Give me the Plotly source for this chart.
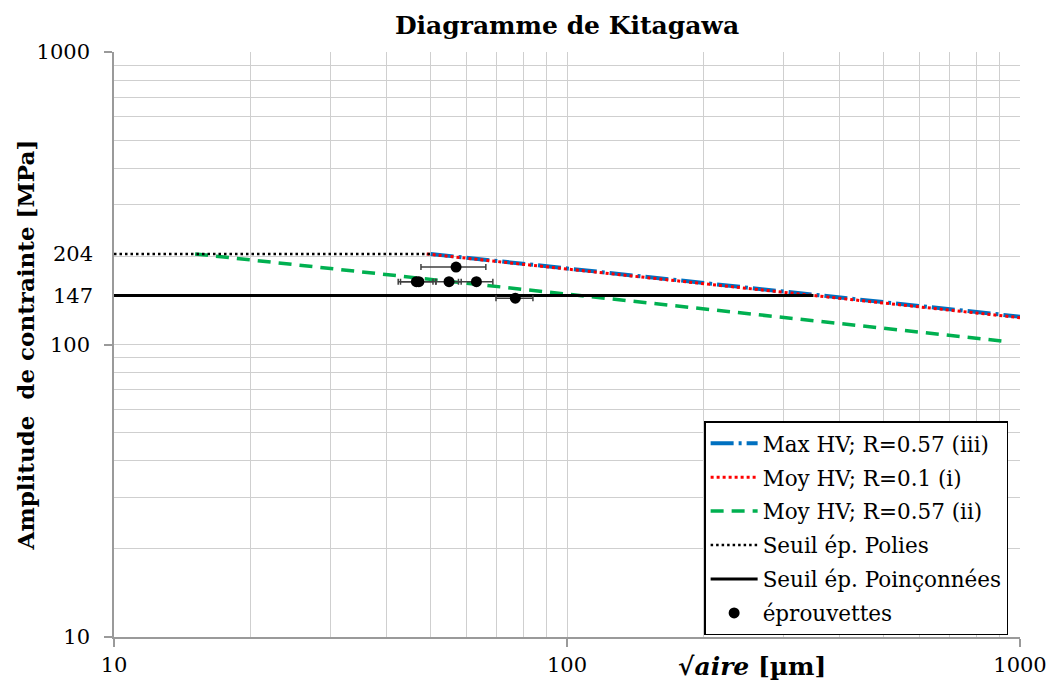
import numpy as np
import plotly.graph_objects as go

# Kitagawa lines, end points: sqrt(area) [µm] -> stress amplitude [MPa]
max_hv_r057_x = [50, 1000]
max_hv_r057_y = [204, 124.5]
moy_hv_r01_x = [49, 1000]
moy_hv_r01_y = [204, 123.5]
moy_hv_r057_x = [15.1, 943]
moy_hv_r057_y = [204, 102.2]

# Thresholds (polished / punched specimens)
seuil_polies_x = [10, 50]
seuil_polies_y = [204, 204]
seuil_poinc_x = [10, 350]
seuil_poinc_y = [147, 147]

# Tested specimens with defect size scatter
eprouvettes_x = [56.9, 46.5, 47.1, 54.9, 63.1, 76.9]
eprouvettes_xerr = [9.3, 4.1, 4.2, 3.5, 5.5, 7.2]
eprouvettes_y = [184, 164, 164, 164, 164, 144]

# Axis ticks
x_ticks = [10, 100, 1000]
y_ticks = [10, 100, 1000]
y_extra_labels = [204, 147]
minor_grid = [20, 30, 40, 50, 60, 70, 80, 90, 200, 300, 400, 500, 600, 700, 800, 900]

SERIF = "DejaVu Serif"
GRID = "#cfcfcf"
AXIS = "#9a9a9a"

fig = go.Figure()

fig.add_trace(go.Scatter(
    x=max_hv_r057_x, y=max_hv_r057_y, mode="lines",
    name="Max HV; R=0.57 (iii)", legendgroup="a",
    line=dict(color="#0070C0", width=4, dash="23px,5px,3px,5px"),
))
fig.add_trace(go.Scatter(
    x=moy_hv_r01_x, y=moy_hv_r01_y, mode="lines",
    name="Moy HV; R=0.1 (i)", legendgroup="b",
    line=dict(color="#FF0000", width=3, dash="3px,3px"),
))
fig.add_trace(go.Scatter(
    x=moy_hv_r057_x, y=moy_hv_r057_y, mode="lines",
    name="Moy HV; R=0.57 (ii)", legendgroup="c",
    line=dict(color="#00B050", width=3.5, dash="13px,8px"),
))
fig.add_trace(go.Scatter(
    x=seuil_polies_x, y=seuil_polies_y, mode="lines",
    name="Seuil ép. Polies", legendgroup="d",
    line=dict(color="black", width=2.5, dash="2.5px,3px"),
))
fig.add_trace(go.Scatter(
    x=seuil_poinc_x, y=seuil_poinc_y, mode="lines",
    name="Seuil ép. Poinçonnées", legendgroup="e",
    line=dict(color="black", width=3),
))
fig.add_trace(go.Scatter(
    x=eprouvettes_x, y=eprouvettes_y, mode="markers",
    name="éprouvettes", legendgroup="f",
    marker=dict(color="black", size=11),
    error_x=dict(type="data", array=eprouvettes_xerr, visible=True,
                 color="#404040", thickness=1.5, width=3),
))

axis_common = dict(
    type="log", range=[1, 3], automargin=False,
    showgrid=True, gridcolor=GRID, gridwidth=1.2,
    showline=True, linecolor=AXIS, linewidth=1.5,
    ticks="outside", ticklen=8, tickcolor=AXIS, tickwidth=1.5,
    tickfont=dict(family=SERIF, size=21, color="black"),
    zeroline=False,
    minor=dict(tickvals=minor_grid, showgrid=True, gridcolor=GRID,
               gridwidth=1.2, ticks=""),
)

fig.update_xaxes(tickvals=x_ticks, ticktext=[str(v) for v in x_ticks], **axis_common)
fig.update_yaxes(tickvals=y_ticks, ticktext=[str(v) for v in y_ticks],
                 ticklabelstandoff=10, **axis_common)

annotations = []
for v in y_extra_labels:
    annotations.append(dict(
        x=0, xref="paper", y=np.log10(v), yref="y",
        text=str(v), showarrow=False, xanchor="right", yanchor="middle",
        xshift=-19, font=dict(family=SERIF, size=21, color="black"),
    ))

# axis titles
annotations.append(dict(
    x=(752 - 114) / 905.5, xref="paper", y=-0.051, yref="paper",
    text="<b>√<i>aire</i> [µm]</b>", showarrow=False,
    xanchor="center", yanchor="middle",
    font=dict(family=SERIF, size=25, color="black"),
))
annotations.append(dict(
    x=(26 - 114) / 905.5, xref="paper", y=0.5, yref="paper",
    text="<b>Amplitude\u00a0 de contrainte [MPa]</b>", showarrow=False,
    textangle=-90, xanchor="center", yanchor="middle",
    font=dict(family=SERIF, size=23, color="black"),
))

fig.update_layout(
    width=1051, height=684, autosize=False,
    margin=dict(l=114, r=31, t=52, b=47),
    paper_bgcolor="white", plot_bgcolor="white",
    title=dict(text="<b>Diagramme de Kitagawa</b>", x=0.5, xref="paper",
               xanchor="center", y=1 - 25 / 684, yref="container",
               yanchor="middle",
               font=dict(family=SERIF, size=25, color="black")),
    legend=dict(x=(704 - 114) / 905.5, y=(637.3 - 421.7) / 585,
                xanchor="left", yanchor="top",
                bgcolor="white", bordercolor="black", borderwidth=1.3,
                font=dict(family=SERIF, size=21.5, color="black"),
                tracegroupgap=3, itemwidth=47),
    annotations=annotations,
)

fig.write_html("out.html")
